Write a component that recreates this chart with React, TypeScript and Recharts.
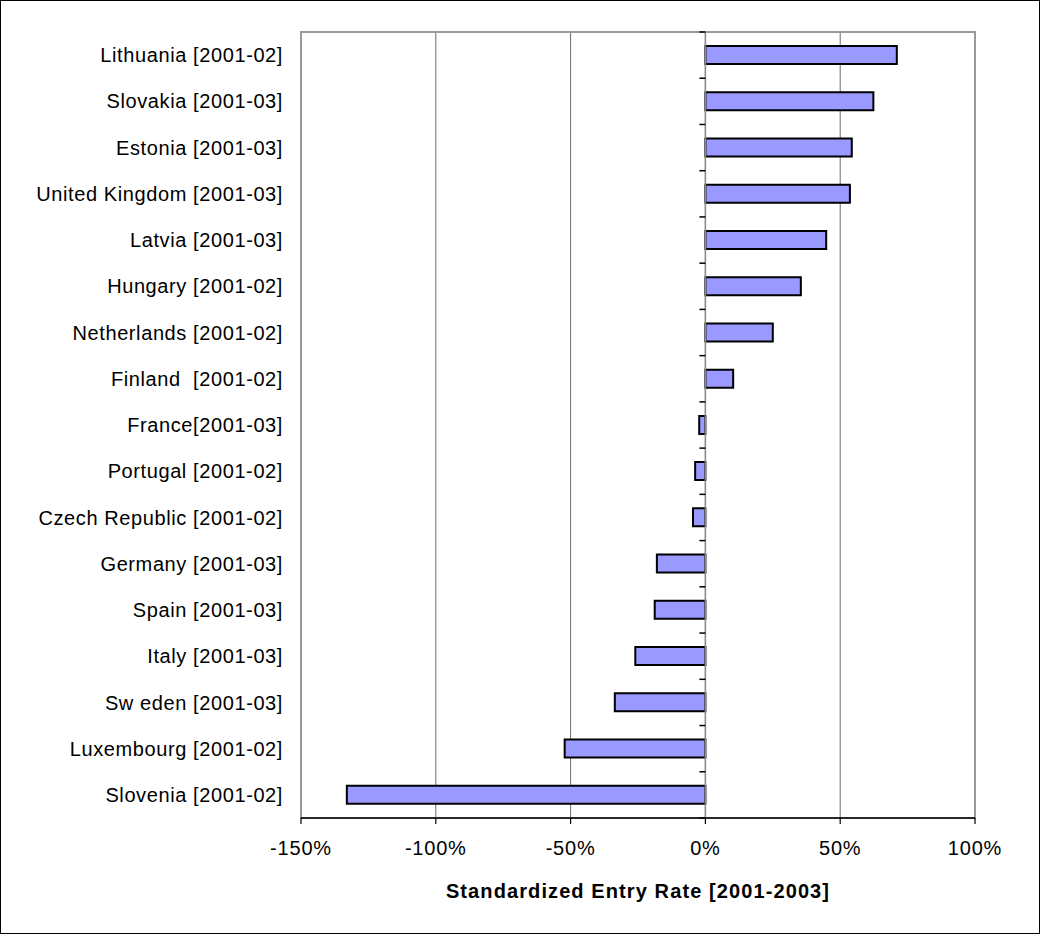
import React from "react";
import { Bar, BarChart, CartesianGrid, ReferenceArea, ReferenceLine, XAxis, YAxis } from "recharts";

// Standardized entry rate by country, top to bottom as in the chart
const countries = [
  "Lithuania [2001-02]",
  "Slovakia [2001-03]",
  "Estonia [2001-03]",
  "United Kingdom [2001-03]",
  "Latvia [2001-03]",
  "Hungary [2001-02]",
  "Netherlands [2001-02]",
  "Finland\u00A0 [2001-02]",
  "France[2001-03]",
  "Portugal [2001-02]",
  "Czech Republic [2001-02]",
  "Germany [2001-03]",
  "Spain [2001-03]",
  "Italy [2001-03]",
  "Sw eden [2001-03]",
  "Luxembourg [2001-02]",
  "Slovenia [2001-02]"
];

const entryRates = [71, 62.3, 54.3, 53.6, 44.8, 35.4, 25, 10.3, -2.3, -3.8, -4.6, -18, -18.8, -26, -33.6, -52.2, -133];

const xTicks = [-150, -100, -50, 0, 50, 100];

const rows = countries.map((name, i) => ({ name, value: entryRates[i] }));

const font = "'Liberation Sans', Arial, sans-serif";

// zero line with the category tick marks sitting on it
function ZeroAxis(props: any) {
  const { x1, y1, x2, y2 } = props;
  const top = Math.min(y1, y2);
  const band = Math.abs(y2 - y1) / countries.length;
  const marks = [];
  for (let i = 0; i <= countries.length; i++) {
    const y = top + i * band;
    marks.push(<line key={"b" + i} x1={x1 - 6} x2={x1} y1={y} y2={y} stroke="#000" strokeWidth={1.5} />);
  }
  return (
    <g>
      <line x1={x1} y1={y1} x2={x2} y2={y2} stroke="#8a8a8a" strokeWidth={1.5} />
      {marks}
    </g>
  );
}

export default function App() {
  return (
    <div style={{ width: 1040, height: 934, position: "relative", fontFamily: font }}>
      <style>{"body{margin:0}"}</style>
      <div
        style={{
          position: "absolute",
          inset: 0,
          border: "1.5px solid #000",
          boxSizing: "border-box",
          pointerEvents: "none"
        }}
      />
      <BarChart
        width={1040}
        height={934}
        data={rows}
        layout="vertical"
        margin={{ top: 32, right: 65, left: 0, bottom: 0 }}
      >
        <CartesianGrid horizontal={false} stroke="#6b6b6b" strokeWidth={1} />
        <ReferenceArea x1={-150} x2={100} fill="none" stroke="#9a9a9a" strokeWidth={2} />
        <XAxis
          type="number"
          domain={[-150, 100]}
          ticks={xTicks}
          tickFormatter={(v) => `${v}%`}
          height={116}
          tickSize={6}
          tickMargin={17}
          axisLine={{ stroke: "#000", strokeWidth: 1.5 }}
          tickLine={{ stroke: "#000", strokeWidth: 1.2 }}
          tick={{ fontSize: 20, fill: "#000", fontFamily: font, letterSpacing: 0.8 }}
          label={{
            value: "Standardized Entry Rate [2001-2003]",
            position: "insideBottom",
            offset: 36,
            style: { fontSize: 20, fontWeight: "bold", fill: "#000", fontFamily: font, letterSpacing: 1.1 }
          }}
        />
        <YAxis
          type="category"
          dataKey="name"
          width={301}
          axisLine={false}
          tickLine={false}
          tickSize={0}
          tickMargin={18}
          interval={0}
          tick={{ fontSize: 20, fill: "#000", fontFamily: font, letterSpacing: 0.6 }}
        />
        <Bar dataKey="value" fill="#9999ff" stroke="#000" strokeWidth={2} barSize={18} isAnimationActive={false} />
        <ReferenceLine x={0} shape={ZeroAxis} />
      </BarChart>
    </div>
  );
}
